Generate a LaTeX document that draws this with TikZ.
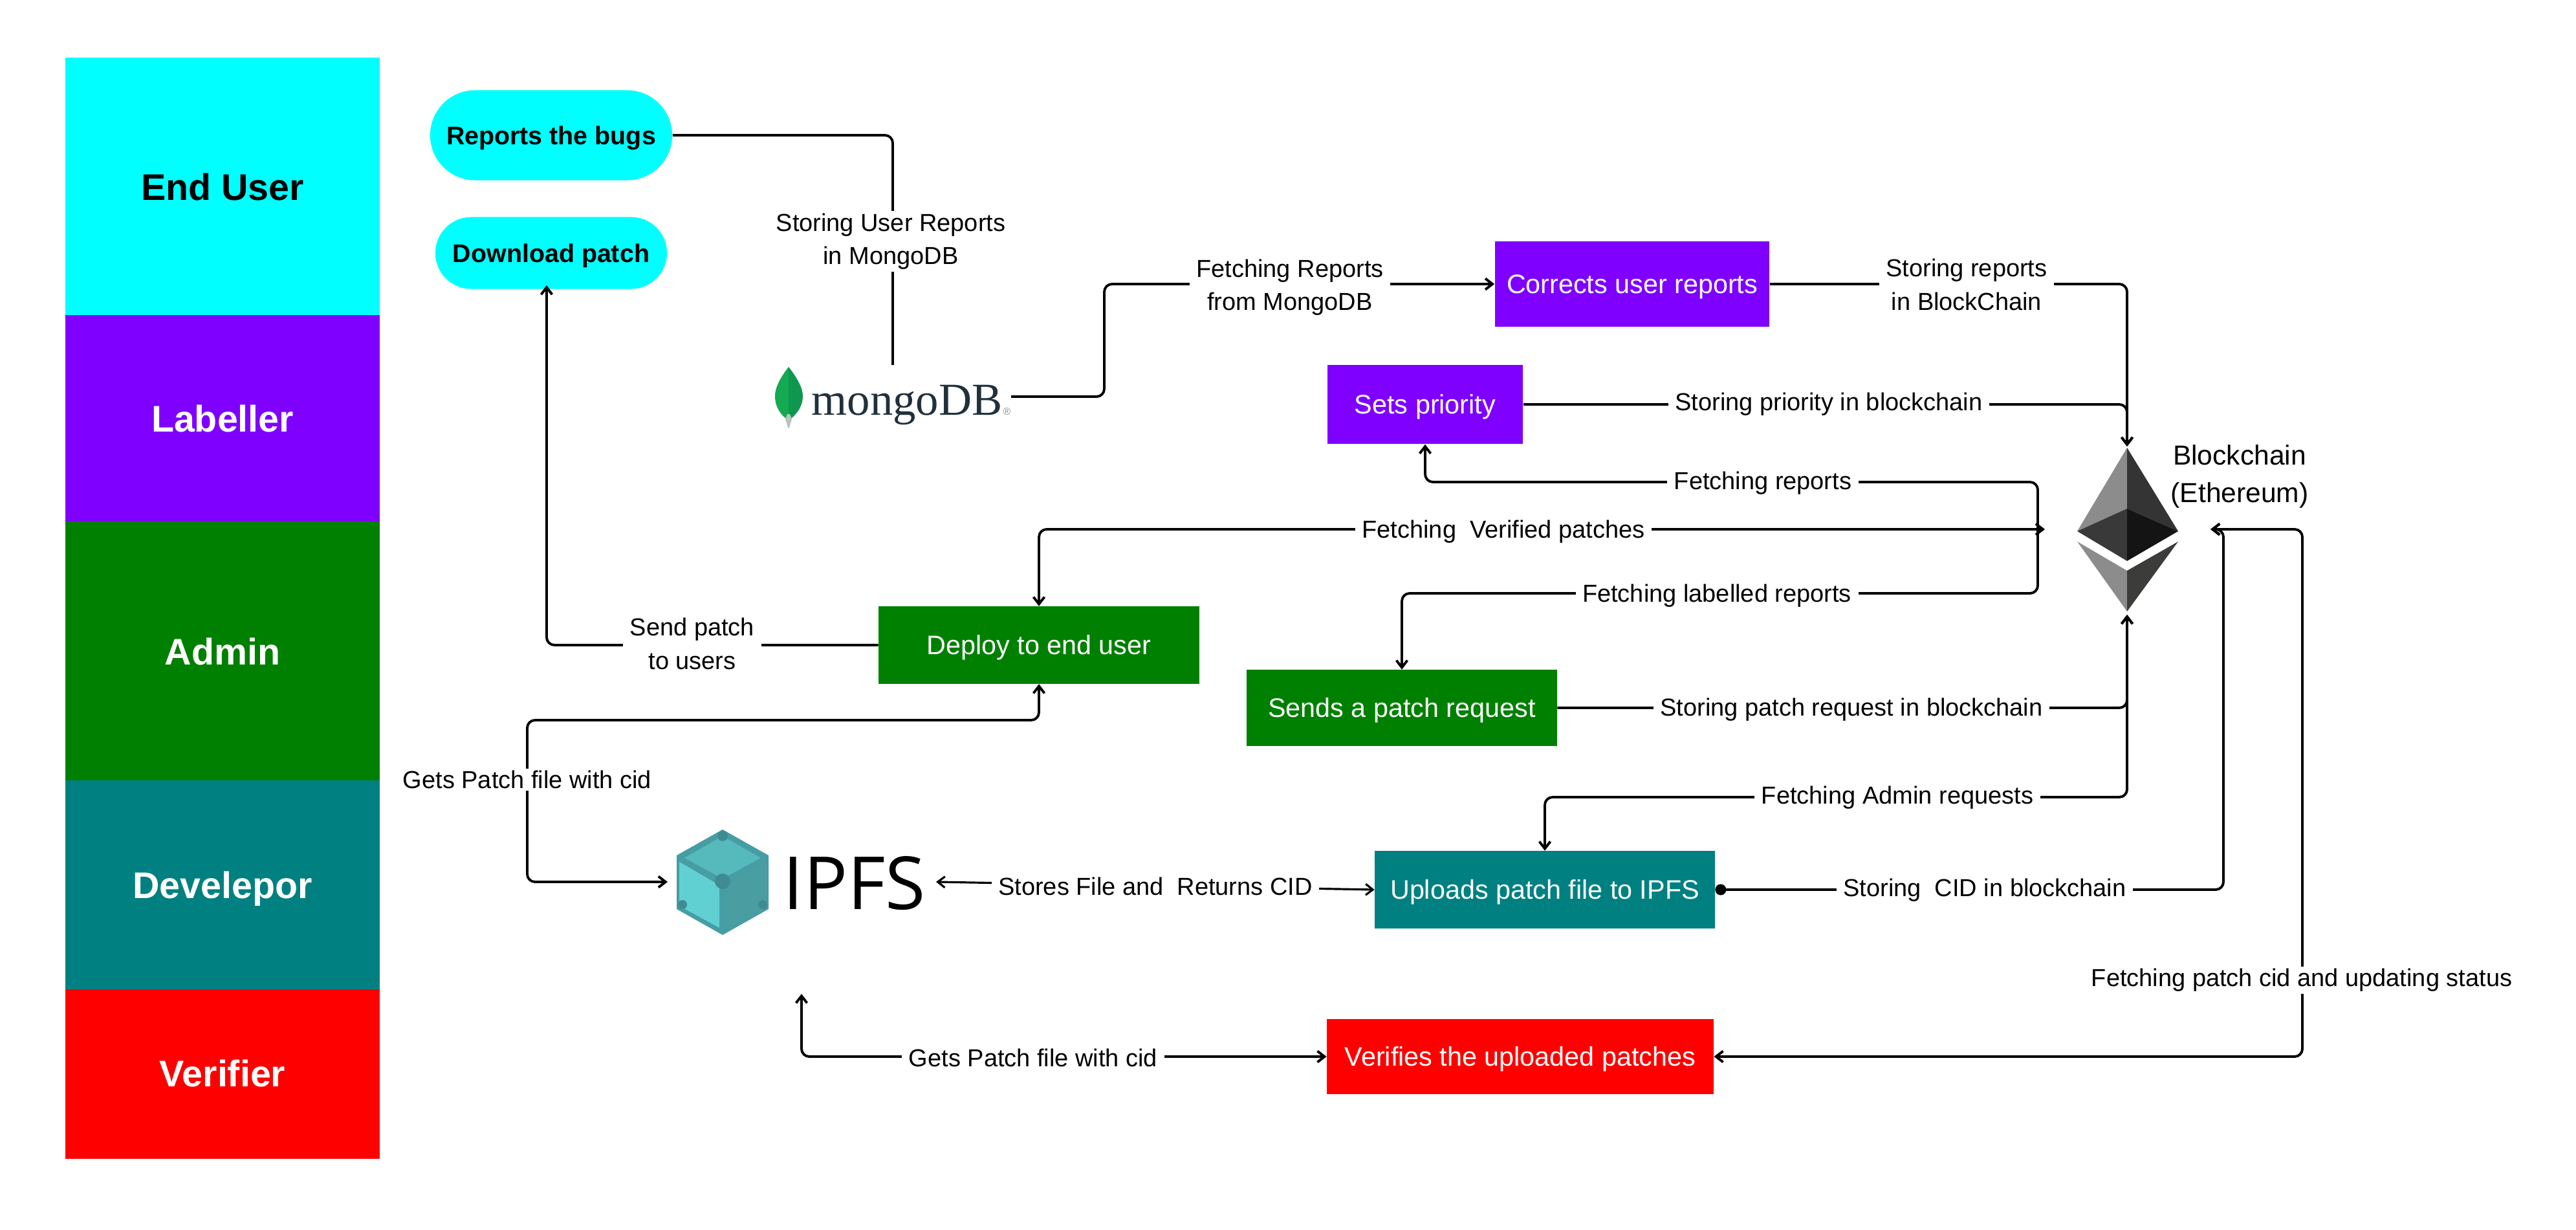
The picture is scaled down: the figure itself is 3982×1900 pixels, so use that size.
\documentclass[tikz,border=0pt]{standalone}
\usepackage{fontspec}
\setmainfont{Liberation Sans}
\newfontfamily\mongofont{Liberation Serif}
\newfontfamily\ipfsfont{Open Sans}
\usetikzlibrary{arrows.meta,shapes.misc}
\newcommand{\fsmall}{\fontsize{10.8}{14.6}\selectfont}
\definecolor{cyanx}{HTML}{00FFFF}
\definecolor{purplex}{HTML}{7F00FF}
\definecolor{greenx}{HTML}{008000}
\definecolor{tealx}{HTML}{008080}
\definecolor{redx}{HTML}{FF0000}
\definecolor{leafa}{HTML}{13AA52}
\definecolor{leafb}{HTML}{0F9750}
\definecolor{leafc}{HTML}{B8C4C2}
\definecolor{mongoink}{HTML}{21313C}
\definecolor{etha}{HTML}{8C8C8C}
\definecolor{ethb}{HTML}{343434}
\definecolor{ethc}{HTML}{393939}
\definecolor{ethd}{HTML}{141414}
\definecolor{ethe}{HTML}{3C3C3B}
\definecolor{cubea}{HTML}{469DA3}
\definecolor{cubeb}{HTML}{56B9BC}
\definecolor{cubec}{HTML}{61D0D2}
\definecolor{cubed}{HTML}{4A9EA1}
\definecolor{cubee}{HTML}{3E8C92}
\tikzset{
  role/.style={draw=none,inner sep=0pt,minimum width=4.85cm,text=white,text height=12pt,text depth=0pt,font=\fontsize{16.3}{20}\selectfont\bfseries},
  boxn/.style={draw=none,inner sep=0pt,text=white,text height=8.2pt,text depth=0pt,font=\fontsize{11.75}{14}\selectfont},
  pill/.style={rounded rectangle,draw=none,fill=cyanx,inner sep=0pt,text height=8pt,text depth=0pt,font=\fontsize{11.2}{14}\selectfont\bfseries},
  lbl/.style={fill=white,inner xsep=3pt,inner ysep=1pt,align=center,font=\fsmall},
  conn/.style={line width=1.1pt,rounded corners=0.12cm,line join=round,
    >={Straight Barb[length=1.1mm,width=1.7mm,line width=1.1pt]}},
  thin conn/.style={conn,line width=0.9pt,>={Straight Barb[length=1.1mm,width=1.7mm,line width=0.9pt]}}
}
\begin{document}
\begin{tikzpicture}[x=0.01cm,y=-0.01cm]
\useasboundingbox (0,0) rectangle (3982,1900);
\fill[white] (0,0) rectangle (3982,1900);
% swimlanes
\node[role,fill=cyanx,text=black,minimum height=3.98cm] (endu) at (344,288) {End User};
\node[role,fill=purplex,minimum height=3.19cm] (lab) at (344,646.5) {Labeller};
\node[role,fill=greenx,minimum height=4.00cm] (adm) at (344,1006) {Admin};
\node[role,fill=tealx,minimum height=3.23cm] (dev) at (344,1367.5) {Develepor};
\node[role,fill=redx,minimum height=2.61cm,text height=13pt,text depth=2pt] (ver) at (344,1660) {Verifier};
% boxes
\node[pill,minimum width=3.74cm,minimum height=1.39cm] (bugs) at (852,209) {Reports the bugs};
\node[pill,minimum width=3.58cm,minimum height=1.11cm] (dl) at (852,391) {Download patch};
\node[boxn,fill=purplex,minimum width=4.24cm,minimum height=1.32cm] (corr) at (2523,439) {Corrects user reports};
\node[boxn,fill=purplex,minimum width=3.02cm,minimum height=1.22cm] (sets) at (2203,625) {Sets priority};
\node[boxn,fill=greenx,minimum width=4.95cm,minimum height=1.19cm] (depl) at (1606,997) {Deploy to end user};
\node[boxn,fill=greenx,minimum width=4.79cm,minimum height=1.17cm] (send) at (2167,1094) {Sends a patch request};
\node[boxn,fill=tealx,minimum width=5.25cm,minimum height=1.19cm] (upl) at (2388,1375) {Uploads patch file to IPFS};
\node[boxn,fill=redx,minimum width=5.97cm,minimum height=1.16cm] (veri) at (2350,1633) {Verifies the uploaded patches};
% mongo logo
\fill[leafa] (1219,567) .. controls (1205,585) and (1198,600) .. (1198,612) .. controls (1198,628) and (1205,640) .. (1219,650) -- cycle;
\fill[leafb] (1219,567) .. controls (1233,585) and (1241,600) .. (1241,612) .. controls (1241,628) and (1232,640) .. (1219,650) -- cycle;
\fill[leafc] (1217,640) -- (1221,640) -- (1224,648) -- (1220,661) -- (1218,661) -- (1214,648) -- cycle;
\node[anchor=base west,inner sep=0pt,text=mongoink] (mongo) at (1254,641) {\mongofont\fontsize{20.1}{22}\selectfont mongoDB};
\node[anchor=base west,inner sep=0pt,text=black!45] (mongor) at (1550,641) {\fontsize{4.5}{5}\selectfont ®};
\coordinate (mongotop) at (1380,564);
\coordinate (mongoright) at (1563,613);
% ethereum logo
\fill[etha] (3288,692) -- (3211,821) -- (3288,786) -- cycle;
\fill[ethb] (3288,692) -- (3367,821) -- (3288,786) -- cycle;
\fill[ethc] (3288,786) -- (3211,821) -- (3288,867) -- cycle;
\fill[ethd] (3288,786) -- (3367,821) -- (3288,867) -- cycle;
\fill[etha] (3211,837) -- (3288,882) -- (3288,945) -- cycle;
\fill[ethe] (3367,837) -- (3288,882) -- (3288,945) -- cycle;
\coordinate (ethtop) at (3288,690);
\coordinate (ethbot) at (3288,950);
\coordinate (ethleft) at (3161,818);
\coordinate (ethright) at (3417,818);
\node[align=center,inner sep=0pt,font=\fontsize{12.1}{16.5}\selectfont] (chain) at (3462,736) {Blockchain\\(Ethereum)};
% ipfs logo
\fill[cubea] (1117,1282) -- (1188,1322) -- (1188,1405) -- (1117,1445) -- (1046,1405) -- (1046,1322) -- cycle;
\fill[cubeb] (1117,1292) -- (1176,1326) -- (1117,1358) -- (1058,1326) -- cycle;
\fill[cubec] (1050,1332) -- (1112,1368) -- (1112,1434) -- (1050,1400) -- cycle;
\fill[cubed] (1184,1332) -- (1122,1368) -- (1122,1434) -- (1184,1400) -- cycle;
\fill[cubee] (1117,1362) circle (12);
\fill[cubee] (1117,1292) circle (8);
\fill[cubee] (1055,1398) circle (7);
\fill[cubee] (1179,1398) circle (7);
\node[anchor=base west,inner sep=0pt,font=\ipfsfont\fontsize{32.2}{36}\selectfont] (ipfs) at (1210,1405) {IPFS};
\coordinate (ipfsleft) at (1032,1363);
\coordinate (ipfsright) at (1447,1363);
\coordinate (ipfsbot) at (1239,1536);
\coordinate (hubt) at (3150,745);
\coordinate (hubl) at (3288,1232);
\coordinate (dsbend) at (815,1113);
\coordinate (stor) at (3437,1375);
\coordinate (vert) at (3559,818);
\coordinate (mongobend) at (1707,613);
\coordinate (dlin) at (845,441);
% connectors
\draw[conn] (bugs.east) -| (mongotop);
\draw[conn,->] (mongoright) -- (mongobend) |- (corr.west);
\draw[conn,->] (corr.east) -| (ethtop);
\draw[conn,->] (sets.east) -| (ethtop);
\draw[conn,<->] (sets.south) |- (hubt) |- (send.north |- 0,917) -- (send.north);
\draw[conn,<->] (depl.north) |- (ethleft);
\draw[conn,->] (depl.west) -| (dlin);
\draw[conn,<->] (depl.south) |- (dsbend) |- (ipfsleft);
\draw[thin conn,<->] (ipfsright) -- (upl.west);
\draw[conn,->] (send.east) -| (ethbot);
\draw[conn,<->] (upl.north) |- (hubl) -- (ethbot);
\draw[conn,{Circle[length=1.7mm,width=1.7mm]}->] (upl.east) -- (stor) |- (ethright);
\draw[conn,<->] (veri.east) -| (vert) -- (ethright);
\draw[conn,<->] (veri.west) -| (ipfsbot);
% labels
\node[lbl] (l1) at (1377,373) {Storing User Reports\\in MongoDB};
\node[lbl] (l2) at (1994,444) {Fetching Reports\\from MongoDB};
\node[lbl] (l3) at (3040,440) {Storing reports\\in BlockChain};
\node[lbl] (l4) at (2827,625) {Storing priority in blockchain};
\node[lbl] (l5) at (2725,747) {Fetching reports};
\node[lbl] (l6) at (2324,822) {Fetching\ \ Verified patches};
\node[lbl] (l7) at (2654,921) {Fetching labelled reports};
\node[lbl] (l8) at (1070,995) {Send patch\\to users};
\node[lbl] (l9) at (815,1205) {Gets Patch file with cid};
\node[lbl] (l10) at (2862,1097) {Storing patch request in blockchain};
\node[lbl] (l11) at (2933,1233) {Fetching Admin requests};
\node[lbl] (l12) at (1786,1370) {Stores File and\ \ Returns CID};
\node[lbl] (l13) at (3068,1376) {Storing\ \ CID in blockchain};
\node[lbl] (l14) at (3558,1515) {Fetching patch cid and updating status};
\node[lbl] (l15) at (1597,1635) {Gets Patch file with cid};
\end{tikzpicture}
\end{document}
